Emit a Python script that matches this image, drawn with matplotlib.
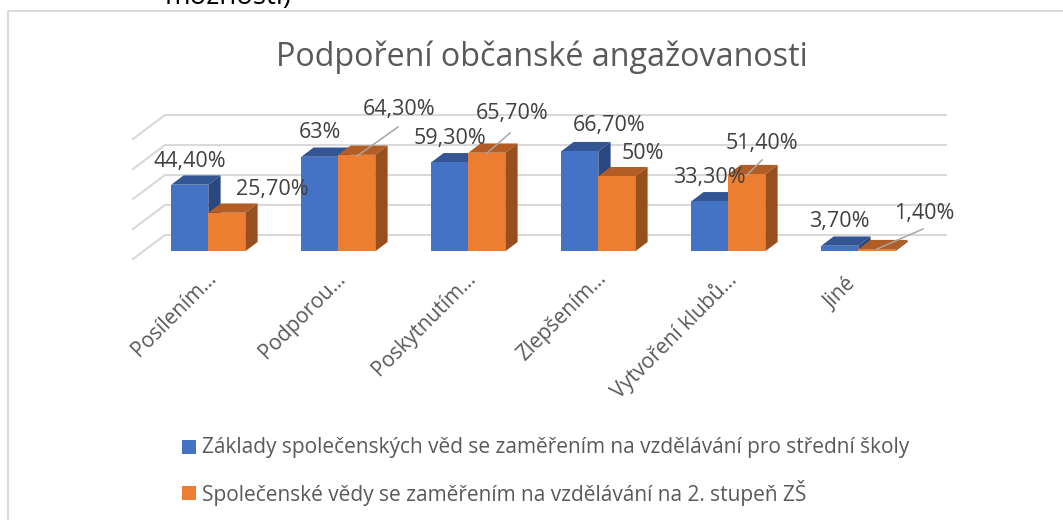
import matplotlib
matplotlib.use("Agg")
import matplotlib.pyplot as plt

plt.rcParams['font.family'] = ['Open Sans', 'DejaVu Sans']

W, H = 1063, 520

categories = ['Posílením…', 'Podporou…', 'Poskytnutím…', 'Zlepšením…', 'Vytvoření klubů…', 'Jiné']
series_names = ['Základy společenských věd se zaměřením na vzdělávání pro střední školy',
                'Společenské vědy se zaměřením na vzdělávání na 2. stupeň ZŠ']
values_a = [44.4, 63, 59.3, 66.7, 33.3, 3.7]
values_b = [25.7, 64.3, 65.7, 50, 51.4, 1.4]
labels_a = ['44,40%', '63%', '59,30%', '66,70%', '33,30%', '3,70%']
labels_b = ['25,70%', '64,30%', '65,70%', '50%', '51,40%', '1,40%']
grid_values = [0, 20, 40, 60, 80]
title = 'Podpoření občanské angažovanosti'

BLUE, BLUE_TOP, BLUE_SIDE = '#4472C4', '#335593', '#2A4880'
ORANGE, ORANGE_TOP, ORANGE_SIDE = '#ED7D31', '#B25D25', '#97501D'
GRID = '#D9D9D9'

# pixel layout of the excel chart
X0, STEP, PX_PER_PCT, BASE = 208.3, 130.0, 1.5, 251.3
LEFT, RIGHT, TOP, BOTTOM = 133, 946, 95, 270
BAR_W = 37 / STEP
DEPTH_X, DEPTH_Y = 12.3 / STEP, 9.3 / PX_PER_PCT
WALL_X, WALL_Y = 32 / STEP, 24 / PX_PER_PCT
FLOOR = -(259 - BASE) / PX_PER_PCT


def fx(px):
    return px / W


def fy(py):
    return 1 - py / H


fig = plt.figure(figsize=(W / 100, H / 100), dpi=100)
ax = fig.add_axes([fx(LEFT), fy(BOTTOM), (RIGHT - LEFT) / W, (BOTTOM - TOP) / H])
ax.set_xlim((LEFT - X0) / STEP, (RIGHT - X0) / STEP)
ax.set_ylim((BASE - BOTTOM) / PX_PER_PCT, (BASE - TOP) / PX_PER_PCT)
ax.axis('off')

# back wall grid and the slanted side of it
for g in grid_values:
    y = g + FLOOR + WALL_Y
    x_left = ax.get_xlim()[0]
    ax.plot([x_left, x_left + WALL_X, ax.get_xlim()[1]], [g + FLOOR, y, y],
            color=GRID, lw=1.5, clip_on=False, zorder=1)


def draw_bar(x, v, front, top_col, side_col, z):
    ax.bar(x, v, width=BAR_W, align='edge', color=front, edgecolor='none', zorder=z + 1)
    ax.fill([x, x + BAR_W, x + BAR_W + DEPTH_X, x + DEPTH_X],
            [v, v, v + DEPTH_Y, v + DEPTH_Y], color=top_col, lw=0, zorder=z)
    ax.fill([x + BAR_W, x + BAR_W + DEPTH_X, x + BAR_W + DEPTH_X, x + BAR_W],
            [0, DEPTH_Y, v + DEPTH_Y, v], color=side_col, lw=0, zorder=z)


for i in range(len(categories)):
    draw_bar(i - BAR_W, values_a[i], BLUE, BLUE_TOP, BLUE_SIDE, 2 + i * 3)
    draw_bar(i, values_b[i], ORANGE, ORANGE_TOP, ORANGE_SIDE, 3 + i * 3)

# data labels were moved by hand in the original, so they are placed one by one
pos_a = [(190, 161), (320, 133), (450, 139), (609, 125), (709, 177), (839, 221)]
pos_b = [(272, 189), (399, 110), (512, 113), (643, 153), (762, 143), (924, 213)]
for txt, (px, py) in zip(labels_a + labels_b, pos_a + pos_b):
    fig.text(fx(px), fy(py), txt, fontsize=15.5, color='#404040',
             ha='center', va='center', zorder=50)

leaders = [((398, 127), (357, 156)), ((510, 133), (487, 153)),
           ((762, 160), (747, 175)), ((923, 229), (877, 249))]
for (x1, y1), (x2, y2) in leaders:
    fig.add_artist(plt.Line2D([fx(x1), fx(x2)], [fy(y1), fy(y2)], color='#A6A6A6', lw=1.1, zorder=40))

# rotated category labels
for i, c in enumerate(categories):
    end_x, end_y = X0 + STEP * i - 3, 268
    if c == 'Jiné':
        end_x, end_y = 845, 274
    fig.text(fx(end_x), fy(end_y), c, fontsize=15, color='#595959', rotation=45,
             rotation_mode='anchor', ha='right', va='top')

fig.text(fx(541.5), fy(57), title, fontsize=23.2, color='#595959', ha='center', va='center')

# legend
for py, col, name in zip([447, 493], [BLUE, ORANGE], series_names):
    fig.add_artist(plt.Rectangle((fx(182), fy(py + 7)), 14 / W, 14 / H, color=col, lw=0))
    fig.text(fx(202), fy(py), name, fontsize=15, color='#595959', ha='left', va='center')

# chart frame, only top and left are visible in the crop
fig.add_artist(plt.Line2D([fx(8), fx(8), 1], [0, fy(10.5), fy(10.5)], color=GRID, lw=1.4))

# tail of the caption above the chart
fig.text(fx(228.5), fy(4), 'možnosti)', fontsize=19.9, color='black', ha='center', va='baseline')

fig.savefig('out.png', dpi=100)
